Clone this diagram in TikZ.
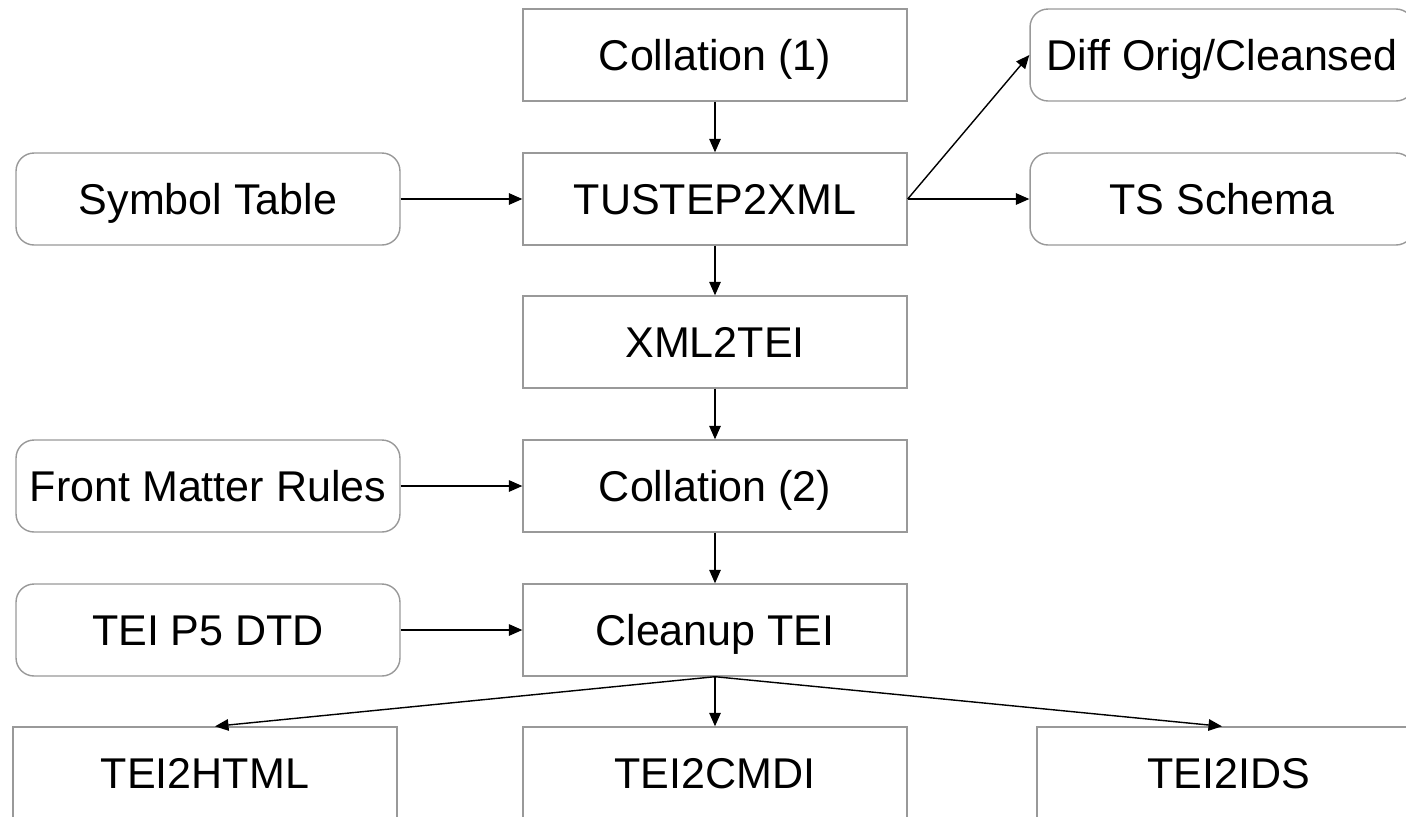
\documentclass[tikz,border=0pt]{standalone}
\usepackage{fontspec}
\setmainfont{Liberation Sans}
\usetikzlibrary{arrows.meta}

\begin{document}
\begin{tikzpicture}[x=0.02cm,y=-0.02cm,stepbox/.style={draw=black!40,line width=0.8pt,fill=white,align=center,font=\fontsize{24.5}{28}\selectfont,text height=17.5pt,text depth=0pt,minimum width=7.68cm,minimum height=1.84cm,inner sep=0pt},inputbox/.style={stepbox,rounded corners=0.36cm},arrow/.style={line width=0.8pt,-{Triangle[length=0.27cm,width=0.23cm]}}]
\useasboundingbox (0,0) rectangle (1406,816);
% main chain
\node[stepbox] (collone) at (715,55) {Collation (1)};
\node[stepbox] (tustep) at (715,199) {TUSTEP2XML};
\node[stepbox] (xmltei) at (715,342) {XML2TEI};
\node[stepbox] (colltwo) at (715,486) {Collation (2)};
\node[stepbox] (cleanup) at (715,630) {Cleanup TEI};
% inputs and side outputs
\node[inputbox] (symbols) at (208,199) {Symbol Table};
\node[inputbox] (frontmatter) at (208,486) {Front Matter Rules};
\node[inputbox] (dtd) at (208,630) {TEI P5 DTD};
\node[inputbox] (diff) at (1222,55) {Diff Orig/Cleansed};
\node[inputbox] (schema) at (1222,199) {TS Schema};
% conversions
\node[stepbox] (html) at (205,773) {TEI2HTML};
\node[stepbox] (cmdi) at (715,773) {TEI2CMDI};
\node[stepbox] (ids) at (1229,773) {TEI2IDS};
\draw[arrow] (collone) -- (tustep);\draw[arrow] (tustep) -- (xmltei);\draw[arrow] (xmltei) -- (colltwo);\draw[arrow] (colltwo) -- (cleanup);
\draw[arrow] (symbols) -- (tustep);\draw[arrow] (frontmatter) -- (colltwo);\draw[arrow] (dtd) -- (cleanup);
\draw[arrow] (tustep.east) -- (diff.west);\draw[arrow] (tustep.east) -- (schema.west);
\draw[arrow] (cleanup.south) -- ([xshift=0.2cm]html.north);\draw[arrow] (cleanup.south) -- (cmdi.north);\draw[arrow] (cleanup.south) -- ([xshift=-0.14cm]ids.north);
\end{tikzpicture}
\end{document}
